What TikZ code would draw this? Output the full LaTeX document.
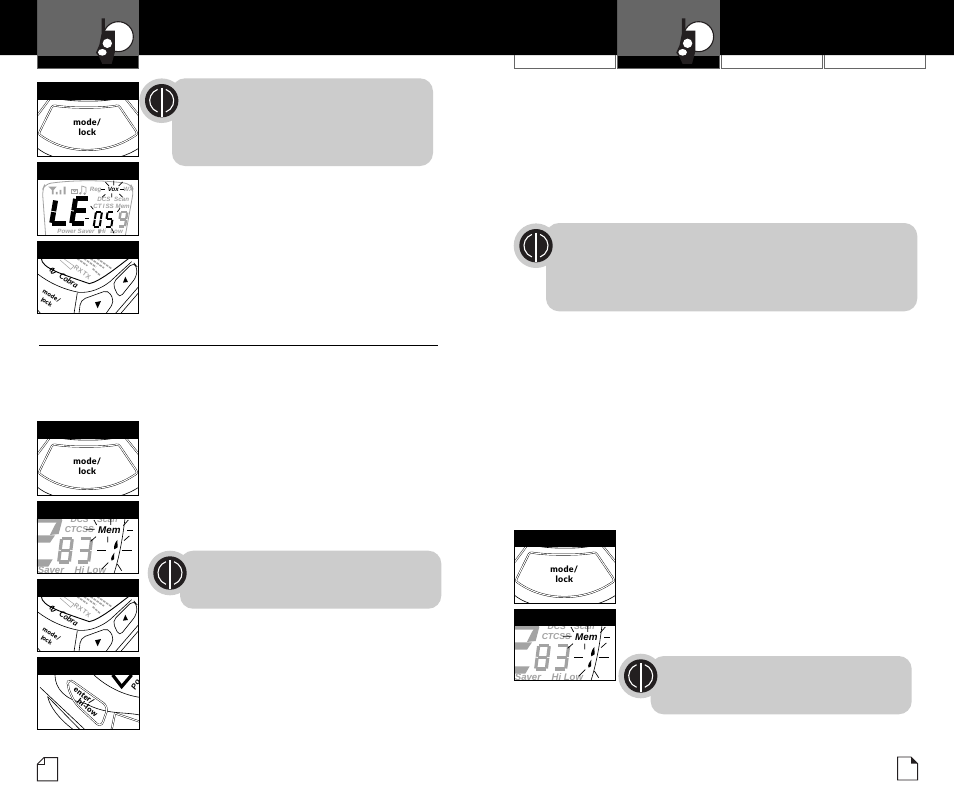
\documentclass[tikz,border=0pt]{standalone}
\usepackage{fontspec}
\setmainfont{Lato}
\newfontfamily\lcdfont{Liberation Sans}
\newfontfamily\keyfont[LetterSpace=3]{Lato Black}
\definecolor{calloutgray}{HTML}{CCCCCC}
\definecolor{tabgray}{HTML}{666666}
\definecolor{lcdgray}{HTML}{A3A3A3}
\definecolor{inkblack}{HTML}{231F20}
\tikzset{
  calloutbox/.style={fill=calloutgray,rounded corners=13pt},
  tabframe/.style={draw=tabgray,line width=.9pt},
  thinink/.style={draw=black,line width=.6pt},
  dbl/.style={draw=black,line width=.4pt,double=white,double distance=1.05pt},
  lcdtext/.style={inner sep=0pt,text=lcdgray,font=\lcdfont\bfseries\itshape\fontsize{6.2}{6.2}\selectfont},
  lcdblack/.style={inner sep=0pt,text=black,font=\lcdfont\bfseries\itshape\fontsize{6.2}{6.2}\selectfont},
  lcdbig/.style={inner sep=0pt,text=lcdgray,font=\lcdfont\bfseries\itshape\fontsize{8.6}{8.6}\selectfont},
  keytext/.style={inner sep=0pt,text=black,font=\keyfont\fontsize{8.8}{8.8}\selectfont},
  smallkey/.style={inner sep=0pt,text=black,font=\keyfont\fontsize{6.2}{6.2}\selectfont},
  burst/.style={draw=black,line width=.7pt},
  seg/.style={line width=#1,shorten >=.5pt,shorten <=.5pt},
  texture/.style={draw=lcdgray,line width=1.5pt,dash pattern=on 2.6pt off 1pt},
}
\def\gEight{0/0/1/0,1/0/1/.5,1/.5/1/1,1/1/0/1,0/1/0/.5,0/.5/0/0,0/.5/1/.5}
\def\gThree{0/0/1/0,1/0/1/.5,1/.5/1/1,1/1/0/1,0/.5/1/.5}
\def\gZero{0/0/1/0,1/0/1/.5,1/.5/1/1,1/1/0/1,0/1/0/.5,0/.5/0/0}
\def\gFive{0/0/1/0,0/0/0/.5,0/.5/1/.5,1/.5/1/1,1/1/0/1}
\def\gNine{0/0/1/0,1/0/1/.5,1/.5/1/1,1/1/0/1,0/.5/0/0,0/.5/1/.5}
\def\gEll{0/0/0/.5,0/.5/0/1,0/1/1/1}
\def\gEee{0/0/1/0,0/0/0/.5,0/.5/0/1,0/1/1/1,0/.5/1/.5}
\newcommand\segdigit[8]{%
  \foreach \aa/\bb/\cc/\dd in #6 {%
    \draw[#7,seg=#8] ({#1+\aa*#3+(1-\bb)*#5},{#2+\bb*#4}) -- ({#1+\cc*#3+(1-\dd)*#5},{#2+\dd*#4});
  }}
\newcommand\badge[2]{%
  \fill[calloutgray] (#1,#2) circle[radius=22.3];
  \fill[inkblack] (#1,#2) circle[radius=16.7];
  \draw[white,line width=1.1pt] ({#1-12*cos(70)},{#2-12*sin(70)}) arc[start angle=-110,end angle=-250,radius=12];
  \draw[white,line width=1.1pt] ({#1+12*cos(70)},{#2-12*sin(70)}) arc[start angle=-70,end angle=70,radius=12];
  \draw[white,line width=1.6pt] (#1,{#2-13}) -- (#1,{#2+16});
}
\newcommand\radio[1]{%
  \begin{scope}[shift={(#1,0)},x=.3333pt,y=-.3333pt]
    \filldraw[fill=white,draw=inkblack,line width=1.1pt] (355,110) circle[radius=45];
    \fill[inkblack] (305,55) -- (315,55) -- (315,92) -- (345,92) -- (345,155) -- (335,192) -- (307,192) -- (298,172) -- (288,158) -- (298,135) -- (305,100) -- cycle;
    \fill[white] (322,130) circle[radius=14];
    \fill[white] (307,157) ellipse[x radius=13,y radius=10];
  \end{scope}}
\newcommand\panelbase[3]{%
  \fill[black] (111,#1) rectangle (#3,#1+50);
  \draw[black,line width=1pt] (111.8,#1) rectangle (#3-1,#2);
}
\newcommand\modepanel[2]{%
  \begin{scope}[shift={({#1-37},{#2-83})},x=.3333pt,y=-.3333pt]
    \begin{scope}
      \clip (111,249) rectangle (416,470);
      \draw[dbl] (165,317) .. controls (210,325) and (310,325) .. (350,317) .. controls (354,316) and (357,318) .. (360,322) -- (408,393) .. controls (412,399) and (412,402) .. (408,405) .. controls (360,438) and (310,450) .. (262,450) .. controls (215,450) and (165,438) .. (120,405) .. controls (116,402) and (116,399) .. (120,393) -- (155,322) .. controls (158,318) and (161,316) .. (165,317) -- cycle;
      \draw[dbl] (113,345) -- (148,298);
      \draw[dbl] (416,345) -- (378,298);
      \draw[thinink] (190,299) .. controls (230,305) and (300,305) .. (335,299);
      \draw[thinink] (113,445) .. controls (125,455) and (140,463) .. (160,470);
      \draw[thinink] (416,445) .. controls (400,455) and (385,463) .. (362,470);
      \node[keytext] (modea) at (262,367) {mode/};
      \node[keytext] (locka) at (262,398) {lock};
    \end{scope}
    \panelbase{249}{470}{416}
  \end{scope}}
\newcommand\lcdpanel[2]{%
  \begin{scope}[shift={({#1-37},{#2-163})},x=.3333pt,y=-.3333pt]
    \begin{scope}
      \clip (111,489) rectangle (416,707);
      \draw[lcdgray,line width=.8pt,rounded corners=6pt] (137,707) -- (127,570) -- (135,552) .. controls (220,540) and (310,540) .. (392,552) -- (401,570) -- (376,707);
      \fill[lcdgray] (145,560) -- (170,560) -- (161,570) -- (161,583) -- (156,583) -- (156,570) -- cycle;
      \fill[lcdgray] (168,576) rectangle (173,583) (179,570) rectangle (184,583) (191,560) rectangle (197,583);
      \draw[lcdgray,line width=1pt] (216,570) rectangle (232,582);
      \draw[lcdgray,line width=.8pt] (219,570) arc[start angle=180,end angle=0,radius=5];
      \draw[lcdgray,line width=.8pt] (245,558) -- (258,562) -- (258,578) (245,558) -- (245,578);
      \fill[lcdgray] (241,580) circle[radius=4] (254,581) circle[radius=4];
      \node[lcdtext] (rega) at (287,569) {Reg};
      \node[lcdtext] (wxa) at (385,569) {WX};
      \node[lcdblack] (voxa) at (340,569) {Vox};
      \node[lcdtext] (dcsa) at (312,598) {DCS};
      \node[lcdtext] (scana) at (365,598) {Scan};
      \node[lcdtext] (ctcssa) at (311,618) {CT\,I\,SS};
      \node[lcdtext] (mema) at (368,618) {Mem};
      \node[lcdtext] (powa) at (228,694) {Power Saver};
      \node[lcdtext] (hia) at (308,694) {Hi};
      \node[lcdtext] (lowa) at (350,694) {Low};
      \segdigit{155}{600}{45}{70}{12}{\gEll}{black}{5pt}
      \segdigit{215}{595}{40}{76}{12}{\gEee}{black}{5pt}
      \segdigit{281}{636}{18}{44}{7}{\gZero}{black}{2pt}
      \segdigit{316}{636}{18}{44}{7}{\gFive}{black}{2pt}
      \segdigit{355}{636}{20}{44}{7}{\gNine}{lcdgray}{2.4pt}
      \draw[black,line width=1.2pt] (256,655) -- (266,655);
      \draw[burst] (327,558) -- (316,546) (341,556) -- (341,542) (356,558) -- (368,546);
      \draw[burst] (302,567) -- (316,567) (360,567) -- (372,567);
      \draw[burst] (316,583) -- (306,592) (335,580) -- (335,592) (358,582) -- (368,592);
      \draw[burst] (272,618) -- (280,628) (360,625) -- (352,636);
      \draw[burst] (335,685) -- (342,700) (297,688) -- (297,700);
    \end{scope}
    \panelbase{489}{707}{416}
  \end{scope}}
\newcommand\cobrakeys{%
  \draw[line width=.9pt,black] (124,775) .. controls (125,805) and (185,822) .. (268,851) .. controls (300,845) and (360,795) .. (388,774);
  \node[lcdtext,rotate=-35,font=\lcdfont\bfseries\fontsize{6.6}{6.6}\selectfont] (rx) at (247,817) {RX\,TX};
  \draw[texture] (232,776) -- (262,797);
  \draw[texture] (252,776) -- (288,801);
  \draw[texture] (272,776) -- (312,804);
  \draw[texture] (292,776) -- (335,806);
  \draw[texture] (278,806) -- (300,826);
  \draw[lcdgray,line width=.5pt] (190,775) -- (222,798) -- (212,808) -- (180,780);
  \node[inner sep=0pt,rotate=-33,font=\itshape\bfseries\fontsize{8.2}{8.2}\selectfont] (cobra) at (207,842) {Cobra};
  \draw[black,line width=.9pt] (150,814) .. controls (146,802) and (170,802) .. (160,810) .. controls (146,820) and (156,824) .. (168,815);
  \draw[thinink] (113,822) .. controls (150,850) and (190,868) .. (236,877) .. controls (270,880) and (305,865) .. (330,845) -- (395,785);
  \draw[thinink] (222,941) -- (232,878);
  \draw[thinink] (113,930) -- (122,941);
  \draw[thinink,rounded corners=5pt] (237,941) -- (242,900) -- (325,870) -- (343,905) -- (318,941);
  \draw[thinink,rounded corners=5pt] (337,850) -- (400,787) -- (411,800) -- (410,830) -- (358,895) -- cycle;
  \draw[thinink] (346,941) -- (416,860);
  \draw[thinink] (362,941) -- (416,878);
  \fill[black] (285,907) -- (303,903) -- (293,925) -- cycle;
  \fill[black] (376,830) -- (369,848) -- (384,846) -- cycle;
  \node[smallkey,rotate=-32] (modeb) at (155,888) {mode/};
  \node[smallkey,rotate=-32] (lockb) at (140,907) {lock};
}
\newcommand\cobrapanel[2]{%
  \begin{scope}[shift={({#1-37},{#2-242})},x=.3333pt,y=-.3333pt]
    \begin{scope}
      \clip (111,726) rectangle (416,941);
      \cobrakeys
    \end{scope}
    \panelbase{726}{941}{416}
  \end{scope}}
\newcommand\mempanel[2]{%
  \begin{scope}[shift={({#1-37},{#2-92})},x=.3333pt,y=-.3333pt]
    \begin{scope}
      \clip (111,276) rectangle (416,491);
      \fill[lcdgray] (111,325) -- (187,325) -- (182,338) -- (111,338) -- cycle;
      \fill[lcdgray] (187,330) -- (176,372) -- (150,375) -- (165,345) -- (173,332) -- cycle;
      \fill[lcdgray] (111,376) -- (165,376) -- (150,398) -- (111,398) -- cycle;
      \fill[lcdgray] (111,448) -- (158,448) -- (145,470) -- (111,470) -- cycle;
      \node[lcdbig] (dcsb) at (239,330) {DCS};
      \node[lcdbig] (scanb) at (322,330) {Scan};
      \node[lcdbig] (ctcssb) at (238,360) {CTCSS};
      \node[lcdblack,font=\lcdfont\bfseries\itshape\fontsize{9.8}{9.8}\selectfont] (memb) at (328,360) {Mem};
      \node[lcdbig,font=\lcdfont\bfseries\itshape\fontsize{9.6}{9.6}\selectfont] (saverb) at (153,481) {Saver};
      \node[lcdbig,font=\lcdfont\bfseries\itshape\fontsize{9.6}{9.6}\selectfont] (hilowb) at (271,481) {Hi Low};
      \segdigit{176}{386}{32}{70}{9}{\gEight}{lcdgray}{3.2pt}
      \segdigit{234}{386}{32}{70}{9}{\gThree}{lcdgray}{3.2pt}
      \draw[burst] (282,330) -- (290,345) (332,325) -- (332,345) (258,358) -- (284,358);
      \draw[burst] (288,380) -- (272,394) (323,380) -- (323,397);
      \draw[burst,line width=.9pt] (292,422) -- (318,422) (365,422) -- (395,422) (382,362) -- (398,362);
      \draw[burst] (372,392) -- (388,378) (370,347) -- (385,330);
      \draw[burst] (325,458) -- (305,478) (352,462) -- (365,482);
      \draw[thinink] (375,325) .. controls (368,385) and (358,440) .. (342,491);
      \fill[black] (352,390) .. controls (345,398) and (340,410) .. (343,418) -- (353,412) -- cycle;
      \fill[black] (343,428) .. controls (338,435) and (330,445) .. (335,452) -- (342,448) -- cycle;
    \end{scope}
    \panelbase{276}{491}{416}
  \end{scope}}
\newcommand\enterpanel[2]{%
  \begin{scope}[shift={({#1-37},{#2-248})},x=.3333pt,y=-.3333pt]
    \begin{scope}
      \clip (111,744) rectangle (419,959);
      \draw[black,line width=3.2pt] (338,795) -- (365,830) -- (395,795);
      \node[inner sep=0pt,rotate=60,font=\lcdfont\bfseries\itshape\fontsize{8}{8}\selectfont] (powc) at (407,824) {Po};
      \draw[thinink] (165,795) .. controls (165,835) and (195,870) .. (255,880) .. controls (320,915) and (370,905) .. (419,915);
      \draw[thinink] (282,795) .. controls (320,830) and (370,855) .. (419,862);
      \draw[dbl,rounded corners=6pt] (205,805) -- (325,890) -- (303,953) -- (225,880) -- (202,830) -- cycle;
      \node[inner sep=0pt,font=\keyfont\fontsize{7.8}{7.8}\selectfont,rotate=-38] (enterc) at (252,857) {enter/};
      \node[inner sep=0pt,font=\keyfont\fontsize{7.8}{7.8}\selectfont,rotate=-38] (hilowc) at (263,893) {hi-low};
      \draw[thinink] (120,832) -- (255,959);
      \draw[thinink] (143,860) .. controls (150,890) and (175,925) .. (220,959);
      \draw[thinink] (143,860) -- (240,959);
      \draw[dbl] (335,959) -- (345,910) -- (419,935);
    \end{scope}
    \panelbase{744}{959}{419}
  \end{scope}}
\begin{document}
\begin{tikzpicture}[x=1pt,y=-1pt]
\useasboundingbox (0,0) rectangle (954,807);
\fill[white] (0,0) rectangle (954,807);
\fill[tabgray] (37,0) rectangle (139,55);
\fill[tabgray] (617,0) rectangle (720,55);
\fill[black] (0,0) rectangle (37,55) (139,0) rectangle (617,55) (720,0) rectangle (954,55);
\filldraw[fill=black,tabframe] (37.4,55) rectangle (138.6,68.4);
\draw[tabframe] (514.4,55) -- (514.4,68.4) -- (615.4,68.4) -- (615.4,55);
\filldraw[fill=black,tabframe] (617.4,55) rectangle (719.6,68.4);
\draw[tabframe] (721,55) -- (721,68.4) -- (822.4,68.4) -- (822.4,55);
\draw[tabframe] (824.8,55) -- (824.8,68.4) -- (925.6,68.4) -- (925.6,55);
\radio{0}
\radio{580.3}
\modepanel{37}{83}
\lcdpanel{37}{163}
\cobrapanel{37}{242}
\draw[black,line width=.8pt] (39,345.3) -- (438,345.3);
\modepanel{37}{422}
\mempanel{37}{502}
\cobrapanel{37}{580}
\enterpanel{37}{658}
\modepanel{514}{530}
\mempanel{514}{609}
\fill[calloutbox] (172,78.3) rectangle (433,166);
\badge{161.7}{100.7}
\fill[calloutbox] (546,223) rectangle (917.3,311.3);
\badge{536}{245.7}
\fill[calloutbox] (180,550.7) rectangle (441.3,608.7);
\badge{170}{573}
\fill[calloutbox] (650.7,656) rectangle (911.7,714.3);
\badge{640.7}{676}
\draw[inkblack,line width=.9pt] (44,757.6) -- (57.6,757.6) -- (57.6,780.8) -- (37.4,780.8) -- (37.4,764) -- cycle;
\draw[inkblack,line width=.7pt] (37.4,764) -- (44,764) -- (44,757.6);
\draw[inkblack,line width=.9pt] (897.6,757) -- (911,757) -- (917.6,763.5) -- (917.6,780) -- (897.6,780) -- cycle;
\fill[inkblack] (911,757) -- (917.6,763.5) -- (911,763.5) -- cycle;
\end{tikzpicture}
\end{document}
